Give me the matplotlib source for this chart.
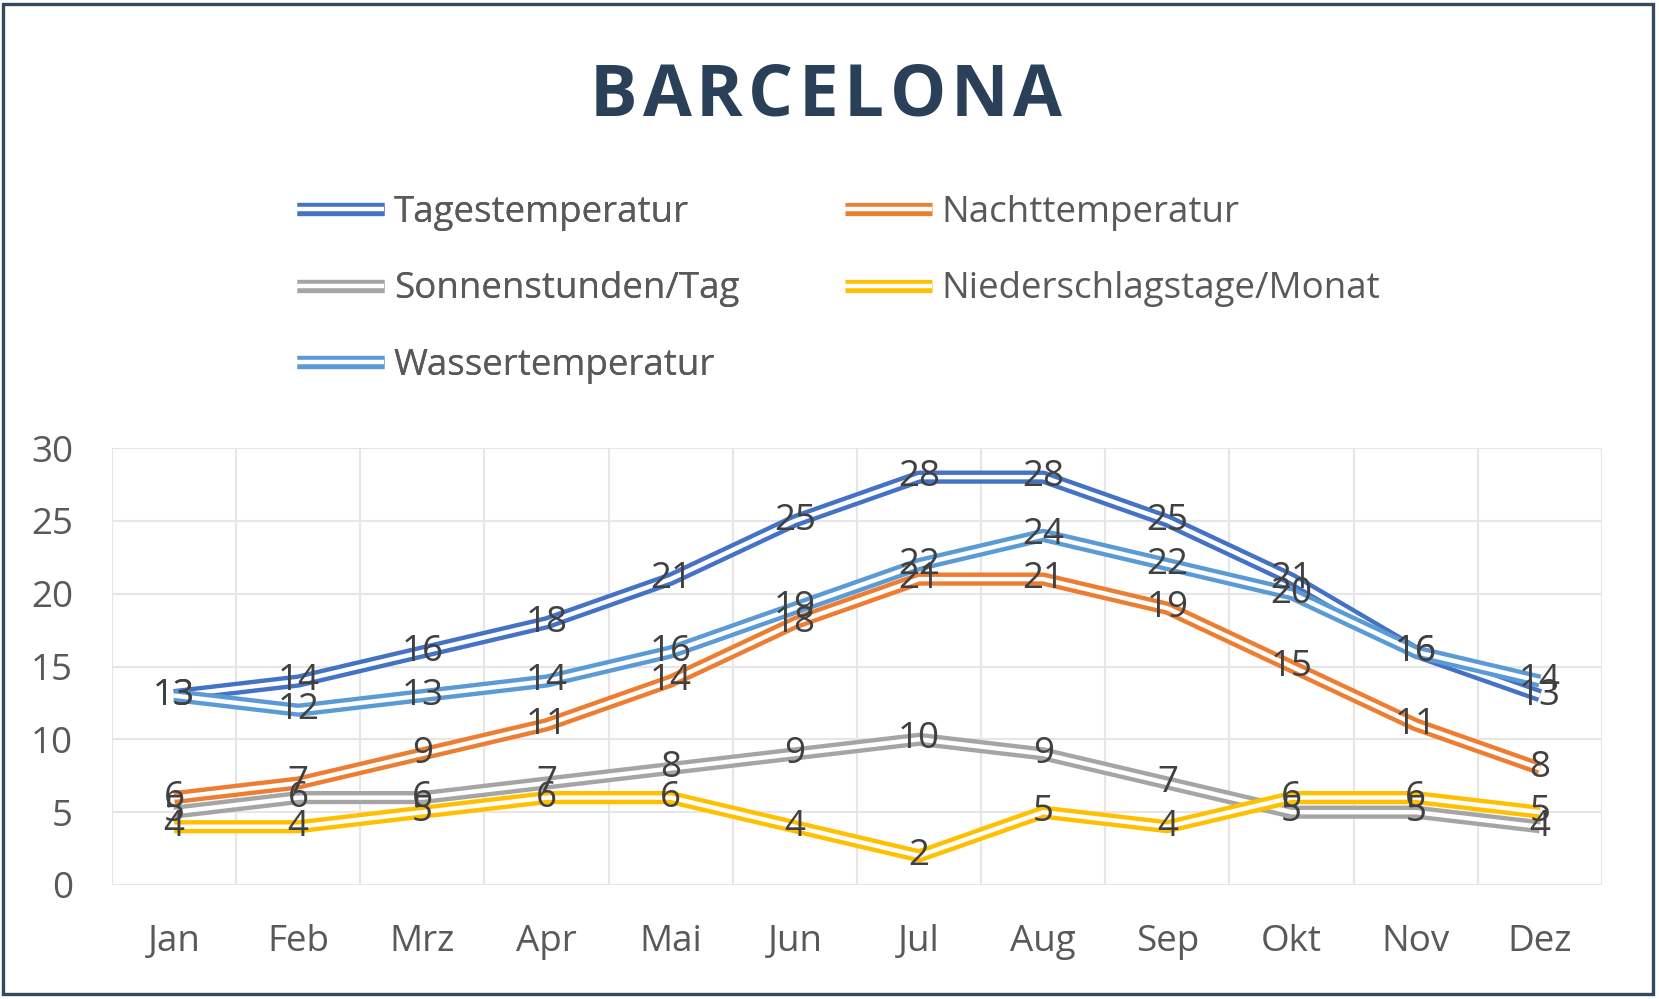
import matplotlib
matplotlib.use("Agg")
from matplotlib import pyplot as plt
from matplotlib import patheffects as pe
from matplotlib.patches import Rectangle
import numpy as np

plt.rcParams['font.family'] = ['Open Sans', 'DejaVu Sans']

monate = ["Jan", "Feb", "Mrz", "Apr", "Mai", "Jun", "Jul", "Aug", "Sep", "Okt", "Nov", "Dez"]
tagestemperatur = [13, 14, 16, 18, 21, 25, 28, 28, 25, 21, 16, 13]
nachttemperatur = [6, 7, 9, 11, 14, 18, 21, 21, 19, 15, 11, 8]
sonnenstunden = [5, 6, 6, 7, 8, 9, 10, 9, 7, 5, 5, 4]
niederschlagstage = [4, 4, 5, 6, 6, 4, 2, 5, 4, 6, 6, 5]
wassertemperatur = [13, 12, 13, 14, 16, 19, 22, 24, 22, 20, 16, 14]

serien = [
    ("Tagestemperatur", tagestemperatur, "#4472C4"),
    ("Nachttemperatur", nachttemperatur, "#ED7D31"),
    ("Sonnenstunden/Tag", sonnenstunden, "#A5A5A5"),
    ("Niederschlagstage/Monat", niederschlagstage, "#FFC000"),
    ("Wassertemperatur", wassertemperatur, "#5B9BD5"),
]

fs = 26.5
grau = "#595959"
W, H = 1659, 999

fig = plt.figure(figsize=(W/100, H/100), dpi=100)
ax = fig.add_axes([112/W, 1-885/H, (1602-112)/W, (885-448)/H])

x = np.arange(len(monate))
linien = {}
for name, werte, farbe in serien:
    ln, = ax.plot(x, werte, color=farbe, lw=9.5, solid_capstyle='butt',
                  solid_joinstyle='round', label=name, zorder=3,
                  path_effects=[pe.Stroke(linewidth=9.5, foreground=farbe),
                                pe.Stroke(linewidth=3.2, foreground='white')])
    linien[name] = ln

# Datenbeschriftungen mittig auf den Punkten
for name, werte, farbe in serien:
    for xi, v in zip(x, werte):
        ax.text(xi, v, str(v), ha='center', va='center', fontsize=fs,
                color="#404040", zorder=5)

ax.set_xlim(-0.5, len(monate) - 0.5)
ax.set_ylim(0, 30)
ax.set_yticks(range(0, 31, 5))
ax.set_xticks(x)
ax.set_xticklabels(monate)
ax.set_xticks(np.arange(-0.5, len(monate), 1), minor=True)
ax.tick_params(axis='both', which='both', length=0, labelsize=fs, labelcolor=grau)
ax.tick_params(axis='y', pad=28)
ax.tick_params(axis='x', pad=28)
ax.grid(axis='y', which='major', color='#E6E6E6', lw=1.5)
ax.grid(axis='x', which='minor', color='#E6E6E6', lw=1.5)
for s in ax.spines.values():
    s.set_visible(False)
ax.set_axisbelow(True)

leg_kw = dict(frameon=False, loc='upper left', fontsize=fs, labelcolor=grau,
              handlelength=2.36, handletextpad=0.27, labelspacing=1.1,
              borderpad=0, borderaxespad=0, bbox_transform=fig.transFigure)
l1 = fig.legend([linien["Tagestemperatur"], linien["Sonnenstunden/Tag"], linien["Wassertemperatur"]],
                ["Tagestemperatur", "Sonnenstunden/Tag", "Wassertemperatur"],
                bbox_to_anchor=(297/W, 1-195/H), **leg_kw)
fig.add_artist(l1)
fig.legend([linien["Nachttemperatur"], linien["Niederschlagstage/Monat"]],
           ["Nachttemperatur", "Niederschlagstage/Monat"],
           bbox_to_anchor=(845/W, 1-195/H), **leg_kw)

# Titel mit Sperrung: Buchstaben einzeln setzen
titel = "BARCELONA"
tkw = dict(fontsize=51, fontweight='bold', color="#2A4058", va='center', ha='left')
fig.canvas.draw()
r = fig.canvas.get_renderer()
breiten = []
for i in range(len(titel) + 1):
    if i == 0:
        breiten.append(0.0)
        continue
    t = fig.text(0, 0, titel[:i], **tkw)
    breiten.append(t.get_window_extent(r).width)
    t.remove()
extra = 5.5
gesamt = breiten[-1] + extra * (len(titel) - 1)
x0 = 826 - gesamt / 2
for i, ch in enumerate(titel):
    fig.text((x0 + breiten[i] + extra * i) / W, 1 - 97/H, ch, **tkw)

fig.add_artist(Rectangle((3/W, 5/H), 1650/W, 990/H, transform=fig.transFigure,
                         fill=False, edgecolor="#34495E", lw=2.4))

fig.savefig("out.png", dpi=100)
